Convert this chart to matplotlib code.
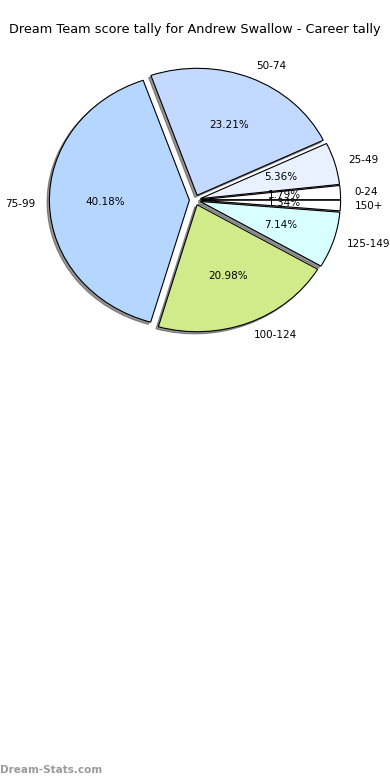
import matplotlib
matplotlib.use("Agg")
import matplotlib.pyplot as plt

# Score bands and how many games fell in each (career tally)
bands = ["0-24", "25-49", "50-74", "75-99", "100-124", "125-149", "150+"]
games = [4, 12, 52, 90, 47, 16, 3]
colours = ["#ffffff", "#e9f0ff", "#c4d9ff", "#b4d6ff", "#d1eb8a", "#d8ffff", "#ffffff"]

title = "Dream Team score tally for Andrew Swallow - Career tally"
watermark = "Dream-Stats.com"


def draw_tally() -> None:
    fig = plt.figure(figsize=(3.9, 7.8), dpi=100)
    ax = fig.add_axes([0, 0, 1, 1])

    ax.pie(
        games,
        labels=bands,
        colors=colours,
        explode=[0.04] * len(games),
        autopct="%1.2f%%",
        startangle=0,
        shadow={"ox": -0.012, "oy": -0.012, "facecolor": "0.3",
                "edgecolor": "0.3", "alpha": 0.6},
        wedgeprops={"edgecolor": "black", "linewidth": 0.8},
        textprops={"fontsize": 7.5},
    )

    # pie is slightly squashed vertically, like the original
    cx, cy, rx, ry = 195, 200, 140, 127
    ax.set_aspect("auto")
    ax.set_xlim(-cx / rx, (390 - cx) / rx)
    ax.set_ylim(-(780 - cy) / ry, cy / ry)
    ax.axis("off")

    fig.text(0.5, 1 - 30 / 780, title, ha="center", va="center", fontsize=9.25)
    fig.text(0.0, 1 - 770 / 780, watermark, ha="left", va="center",
             fontsize=7.5, fontweight="bold", color="#9a9a9a")

    fig.savefig("out.png", dpi=100)


if __name__ == "__main__":
    draw_tally()
